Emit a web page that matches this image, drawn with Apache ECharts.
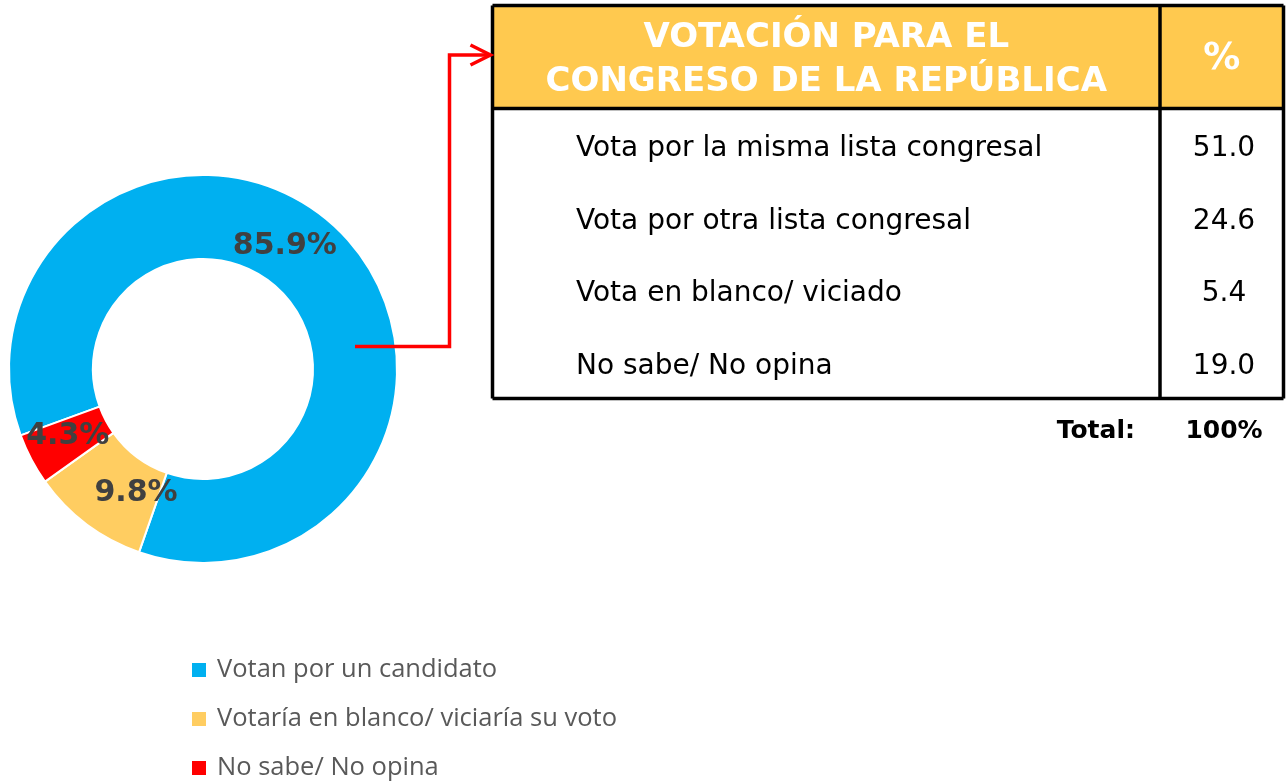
<!DOCTYPE html>
<html>
<head>
<meta charset="utf-8">
<script src="https://cdn.jsdelivr.net/npm/echarts@6/dist/echarts.min.js"></script>
<style>
  html, body { margin: 0; padding: 0; background: #ffffff; }
  #chart { width: 1288px; height: 782px; }
</style>
</head>
<body>
<div id="chart"></div>
<script>
// Donut: intention of vote for a candidate
const categories = ['Votan por un candidato', 'Votaría en blanco/ viciaría su voto', 'No sabe/ No opina'];
const shares = [85.9, 9.8, 4.3];
const sliceColors = ['#00B0F0', '#FFCD61', '#FF0000'];

// Breakdown table: congressional vote
const tableTitle = ['VOTACIÓN PARA EL', 'CONGRESO DE LA REPÚBLICA'];
const tableValueHeader = '%';
const tableRows = ['Vota por la misma lista congresal', 'Vota por otra lista congresal', 'Vota en blanco/ viciado', 'No sabe/ No opina'];
const tableValues = [51.0, 24.6, 5.4, 19.0];
const totalLabel = 'Total:';
const totalValue = '100%';

// Layout
const pieCenter = [203, 369];
const pieRadius = [110, 194];
const labelShift = [[-27, -12], [26, 0], [2, -5]];

const T = { left: 492.5, right: 1283.5, top: 5.5, head: 108.5, bottom: 398.5, col: 1160 };
const lineW = 3.5;
const headerFill = '#FFC94F';
const valueX = 1224;

const chart = echarts.init(document.getElementById('chart'), null, { renderer: 'canvas' });

const g = [];
// header background
g.push({ type: 'rect', shape: { x: T.left, y: T.top, width: T.right - T.left, height: T.head - T.top }, style: { fill: headerFill }, z: 1 });
// header title lines
tableTitle.forEach((t, i) => {
  g.push({ type: 'text', z: 3, style: { text: t, x: (T.left + T.col) / 2, y: 38 + i * 44, fill: '#ffffff',
    font: 'bold 34px "DejaVu Sans"', align: 'center', verticalAlign: 'middle' } });
});
g.push({ type: 'text', z: 3, style: { text: tableValueHeader, x: (T.col + T.right) / 2, y: 59, fill: '#ffffff',
  font: 'bold 37px "DejaVu Sans"', align: 'center', verticalAlign: 'middle' } });

// body rows
const rowH = (T.bottom - T.head) / tableRows.length;
tableRows.forEach((r, i) => {
  const cy = T.head + rowH * (i + 0.5) + 4;
  g.push({ type: 'text', z: 3, style: { text: r, x: 576, y: cy, fill: '#000000',
    font: '28px "DejaVu Sans"', align: 'left', verticalAlign: 'middle' } });
  g.push({ type: 'text', z: 3, style: { text: tableValues[i].toFixed(1), x: valueX, y: cy, fill: '#000000',
    font: '28px "DejaVu Sans"', align: 'center', verticalAlign: 'middle' } });
});

// total
g.push({ type: 'text', z: 3, style: { text: totalLabel, x: 1135, y: 431, fill: '#000000',
  font: 'bold 25px "DejaVu Sans"', align: 'right', verticalAlign: 'middle' } });
g.push({ type: 'text', z: 3, style: { text: totalValue, x: valueX, y: 431, fill: '#000000',
  font: 'bold 25px "DejaVu Sans"', align: 'center', verticalAlign: 'middle' } });

// grid lines of the table
const lineStyle = { stroke: '#000000', lineWidth: lineW };
[[T.left, T.top, T.right, T.top], [T.left, T.head, T.right, T.head], [T.left, T.bottom, T.right, T.bottom],
 [T.left, T.top, T.left, T.bottom], [T.col, T.top, T.col, T.bottom], [T.right, T.top, T.right, T.bottom]]
  .forEach(s => g.push({ type: 'line', z: 4, shape: { x1: s[0], y1: s[1], x2: s[2], y2: s[3] }, style: lineStyle }));

// red connector from the donut to the table header
const midR = (pieRadius[0] + pieRadius[1]) / 2;
const elbowX = 449.5, arrowY = 55, tipX = T.left - 2;
g.push({ type: 'polyline', z: 5, shape: { points: [[pieCenter[0] + midR, 346.5], [elbowX, 346.5], [elbowX, arrowY], [tipX, arrowY]] },
  style: { stroke: '#FF0000', lineWidth: 3.5, fill: null } });
g.push({ type: 'polyline', z: 5, shape: { points: [[tipX - 20, arrowY - 10], [tipX, arrowY], [tipX - 20, arrowY + 10]] },
  style: { stroke: '#FF0000', lineWidth: 3.5, fill: null } });

chart.setOption({
  animation: false,
  backgroundColor: '#ffffff',
  color: sliceColors,
  legend: {
    orient: 'vertical',
    left: 190,
    top: 657,
    padding: 0,
    itemWidth: 16,
    itemHeight: 16,
    itemGap: 23,
    icon: 'rect',
    data: categories,
    textStyle: { fontFamily: '"Open Sans"', fontSize: 25.5, color: '#595959', lineHeight: 26, padding: [0, 0, 0, 5] }
  },
  graphic: g,
  series: [{
    type: 'pie',
    center: pieCenter,
    radius: pieRadius,
    startAngle: 200,
    clockwise: true,
    avoidLabelOverlap: false,
    itemStyle: { borderColor: '#ffffff', borderWidth: 2 },
    label: {
      show: true,
      position: 'inside',
      formatter: p => p.value.toFixed(1) + '%',
      fontFamily: '"DejaVu Sans"',
      fontWeight: 'bold',
      fontSize: 30,
      color: '#404040'
    },
    labelLine: { show: false },
    labelLayout: p => ({ dx: labelShift[p.dataIndex][0], dy: labelShift[p.dataIndex][1] }),
    emphasis: { disabled: true },
    data: categories.map((c, i) => ({ name: c, value: shares[i] }))
  }]
});
</script>
</body>
</html>
